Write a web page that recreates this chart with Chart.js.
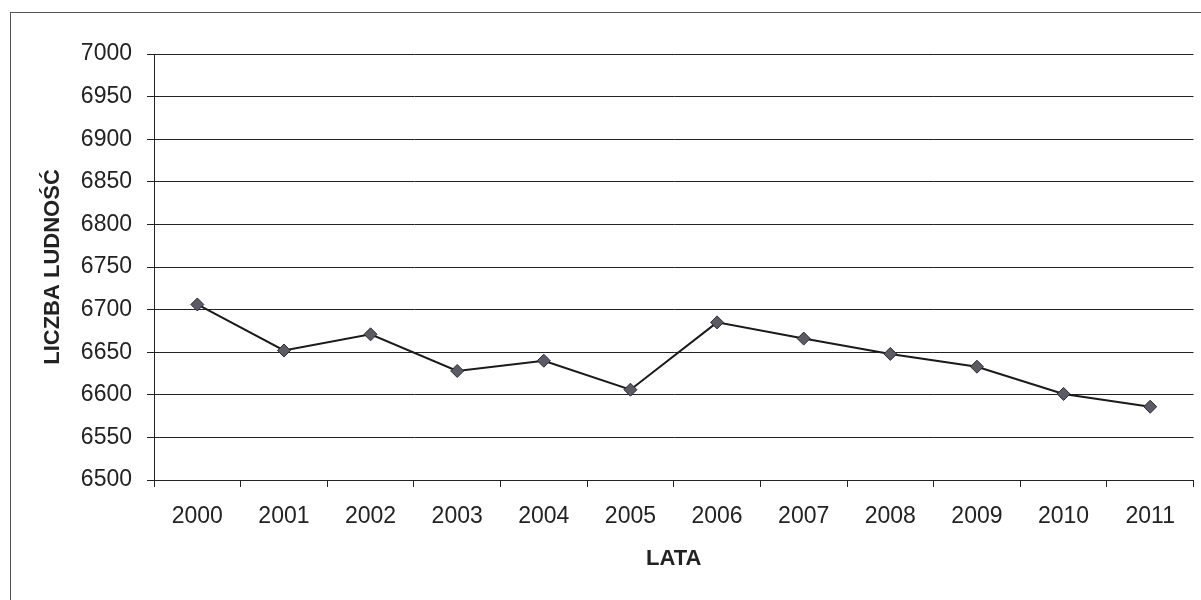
<!DOCTYPE html>
<html lang="pl">
<head>
    <meta charset="UTF-8">
    <title>Liczba ludności</title>
    <script src="https://cdn.jsdelivr.net/npm/chart.js"></script>
    <style>
        html, body { margin: 0; padding: 0; background: #fff; overflow: hidden; }
        #frame { position: absolute; left: 10px; top: 12px; width: 1205px; height: 620px; border: 1px solid #555; }
        #wrap { position: absolute; left: 0; top: 0; width: 1201px; height: 600px; }
    </style>
</head>
<body>
    <div id="frame"></div>
    <div id="wrap">
        <canvas id="popChart" width="1201" height="600"></canvas>
    </div>
    <script>
        // dane z wykresu
        const years = ['2000', '2001', '2002', '2003', '2004', '2005', '2006', '2007', '2008', '2009', '2010', '2011'];
        const population = [6706, 6652, 6671, 6628, 6640, 6606, 6685, 6666, 6648, 6633, 6601, 6586];
        const yMin = 6500;
        const yMax = 7000;
        const yStep = 50;

        const ctx = document.getElementById('popChart').getContext('2d');

        new Chart(ctx, {
            type: 'line',
            data: {
                labels: years,
                datasets: [{
                    label: 'Liczba ludności',
                    data: population,
                    borderColor: '#1a1a1a',
                    borderWidth: 2,
                    pointStyle: 'rectRot',
                    pointRadius: 6.5,
                    pointBackgroundColor: '#5b5b66',
                    pointBorderColor: '#2a2a30',
                    pointBorderWidth: 1,
                    tension: 0
                }]
            },
            options: {
                responsive: false,
                animation: false,
                devicePixelRatio: 1,
                layout: { padding: { top: 54, right: 7, bottom: 0, left: 0 } },
                plugins: {
                    legend: { display: false },
                    tooltip: { enabled: false }
                },
                scales: {
                    x: {
                        offset: true,
                        grid: {
                            offset: true,
                            drawOnChartArea: false,
                            tickLength: 7,
                            color: '#222'
                        },
                        border: { color: '#222', width: 1 },
                        ticks: {
                            color: '#222',
                            padding: 16,
                            font: { family: 'Liberation Sans', size: 23 }
                        },
                        title: {
                            display: true,
                            text: 'LATA',
                            color: '#222',
                            padding: { top: 0, bottom: 28 },
                            font: { family: 'Liberation Sans', size: 22, weight: 'bold' }
                        },
                        afterFit: function(scale) { scale.height = 120; }
                    },
                    y: {
                        min: yMin,
                        max: yMax,
                        grid: {
                            tickLength: 7,
                            color: '#222'
                        },
                        border: { color: '#222', width: 1 },
                        ticks: {
                            stepSize: yStep,
                            color: '#222',
                            padding: 15,
                            font: { family: 'Liberation Sans', size: 23 },
                            callback: function(value) { return String(value); }
                        },
                        title: {
                            display: true,
                            text: 'LICZBA LUDNOŚĆ',
                            color: '#222',
                            padding: { top: 40, bottom: 0 },
                            font: { family: 'Liberation Sans', size: 22, weight: 'bold' }
                        },
                        afterFit: function(scale) { scale.width = 154; }
                    }
                }
            }
        });
    </script>
</body>
</html>
